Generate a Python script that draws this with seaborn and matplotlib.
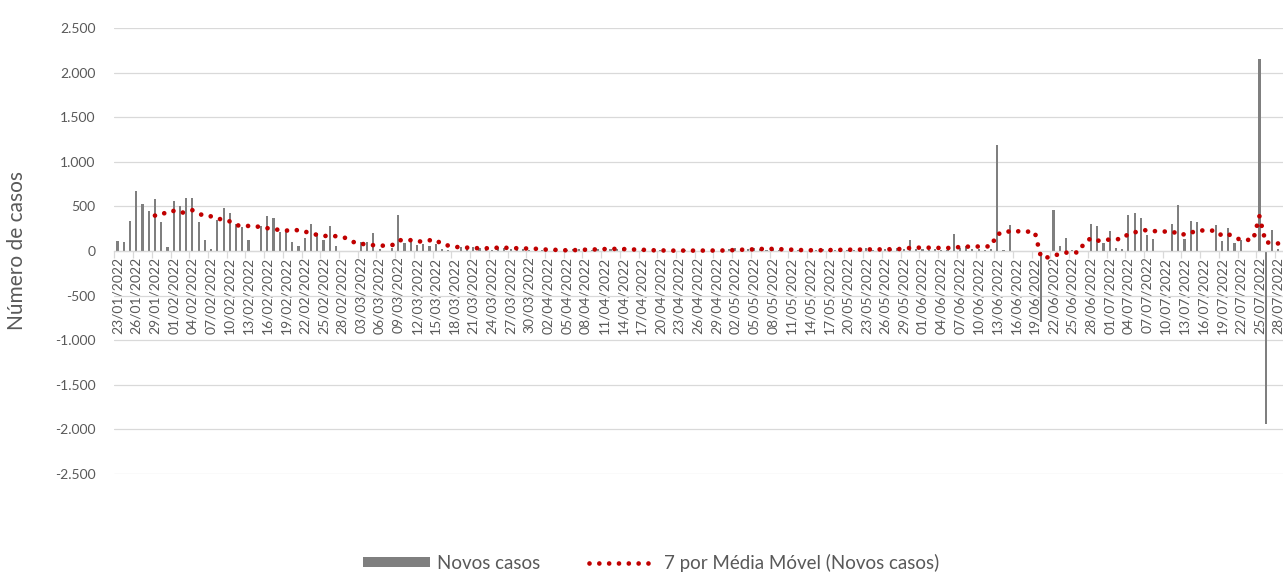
import numpy as np
import pandas as pd
import matplotlib
matplotlib.use("Agg")
import matplotlib.pyplot as plt
import seaborn as sns
from matplotlib.lines import Line2D
from matplotlib.patches import Patch
from matplotlib.ticker import FuncFormatter

# Novos casos diarios, por mes (23/01/2022 a 29/07/2022)
casos_jan = [115, 100, 335, 670, 525, 450, 585, 325, 40]
casos_fev = [555, 505, 595, 595, 325, 125, 20, 350, 480, 425, 300, 270, 120, 0,
             280, 395, 365, 210, 240, 100, 60, 145, 300, 200, 125, 275, 55, 0]
casos_mar = [0, 0, 100, 100, 200, 20, 0, 30, 400, 90, 110, 70, 80, 60, 80, 20,
             10, 5, 40, 50, 45, 35, 30, 15, 50, 35, 20, 30, 25, 10, 5]
casos_abr = [10, 0, 15, 5, 10, 20, 25, 30, 15, 20, 30, 25, 20, 15, 5, 0, 10, 5,
             0, 10, 5, 0, 5, 10, 0, 5, 10, 5, 0, 10]
casos_mai = [20, 30, 25, 20, 30, 25, 15, 20, 10, 5, 0, 10, 5, 10, 15, 20, 10,
             15, 20, 10, 15, 20, 35, 10, 15, 20, 25, 30, 20, 125, 25]
casos_jun = [20, 15, 20, 10, 15, 190, 30, 60, 25, 20, 15, 25, 1190, 10, 290, 0,
             5, 0, 0, -800, 0, 465, 60, 148, 10, 5, 0, 307, 277, 85]
casos_jul = [222, 30, 20, 407, 426, 374, 178, 130, 5, 5, 307, 511, 130, 333, 326,
             0, 0, 296, 111, 259, 85, 122, 0, 0, 2150, -1945, 241, 22, 20]

inicio = "2022-01-23"
y_ticks = list(range(-2500, 2501, 500))

novos_casos = casos_jan + casos_fev + casos_mar + casos_abr + casos_mai + casos_jun + casos_jul
datas = pd.date_range(inicio, periods=len(novos_casos), freq="D").strftime("%d/%m/%Y")
df = pd.DataFrame({"data": datas, "casos": novos_casos})
df["pos"] = np.arange(len(df))
df["media_movel"] = df["casos"].rolling(7).mean()

sns.set_theme(style="white")
plt.rcParams["font.family"] = ["Lato", "DejaVu Sans"]
txt = "#595959"
grid = "#d9d9d9"
bar_color = "#7f7f7f"
red = "#c00000"

fig = plt.figure(figsize=(12.83, 5.72), dpi=100)
ax = fig.add_axes([114.4 / 1283, 1 - 474 / 572, (1287.5 - 114.4) / 1283, (474 - 28) / 572])
ax.set_axisbelow(True)

sns.barplot(data=df, x="data", y="casos", color=bar_color, saturation=1,
            width=0.35, linewidth=0, errorbar=None, ax=ax)
dotted = (0, (0.001, 2.08))
sns.lineplot(data=df, x="pos", y="media_movel", color=red, linewidth=3.4,
             linestyle=dotted, dash_capstyle="round", ax=ax, zorder=3)

n = len(df)
ax.set_xlim(-0.5, n - 0.5)
ax.set_ylim(-2500, 2500)
ax.set_yticks(y_ticks)
ax.yaxis.set_major_formatter(FuncFormatter(lambda v, p: f"{int(v):,}".replace(",", ".")))
ax.grid(axis="y", color=grid, linewidth=0.9)
ax.grid(axis="x", visible=False)

ax.set_xticks(np.arange(0, n, 3))
ax.set_xticklabels(df["data"].iloc[::3])
ax.set_xticks(np.arange(-0.5, n, 3), minor=True)
ax.tick_params(axis="x", which="major", length=0, pad=4, labelsize=10,
               labelcolor=txt, labelrotation=90)
ax.tick_params(axis="x", which="minor", length=5, width=0.9, color=grid, bottom=True)
ax.tick_params(axis="y", length=0, pad=13.5, labelsize=10, labelcolor=txt)

for s in ["top", "right", "left"]:
    ax.spines[s].set_visible(False)
ax.spines["bottom"].set_position(("data", 0))
ax.spines["bottom"].set_color(grid)
ax.spines["bottom"].set_linewidth(0.9)

ax.set_xlabel("")
ax.set_ylabel("Número de casos", fontsize=15, color=txt)
ax.yaxis.set_label_coords(-0.0745, 0.5)

handles = [Patch(facecolor=bar_color, edgecolor="none"),
           Line2D([0], [0], color=red, linewidth=3.4, linestyle=dotted, dash_capstyle="round")]
labels = ["Novos casos", "7 por Média Móvel (Novos casos)"]
fig.legend(handles, labels, loc="center", bbox_to_anchor=(651 / 1283, 1 - 563 / 572),
           ncol=2, frameon=False, fontsize=13.5, labelcolor=txt, handlelength=3.6,
           handleheight=0.45, handletextpad=0.37, columnspacing=2.6)

fig.savefig("out.png", dpi=100)
